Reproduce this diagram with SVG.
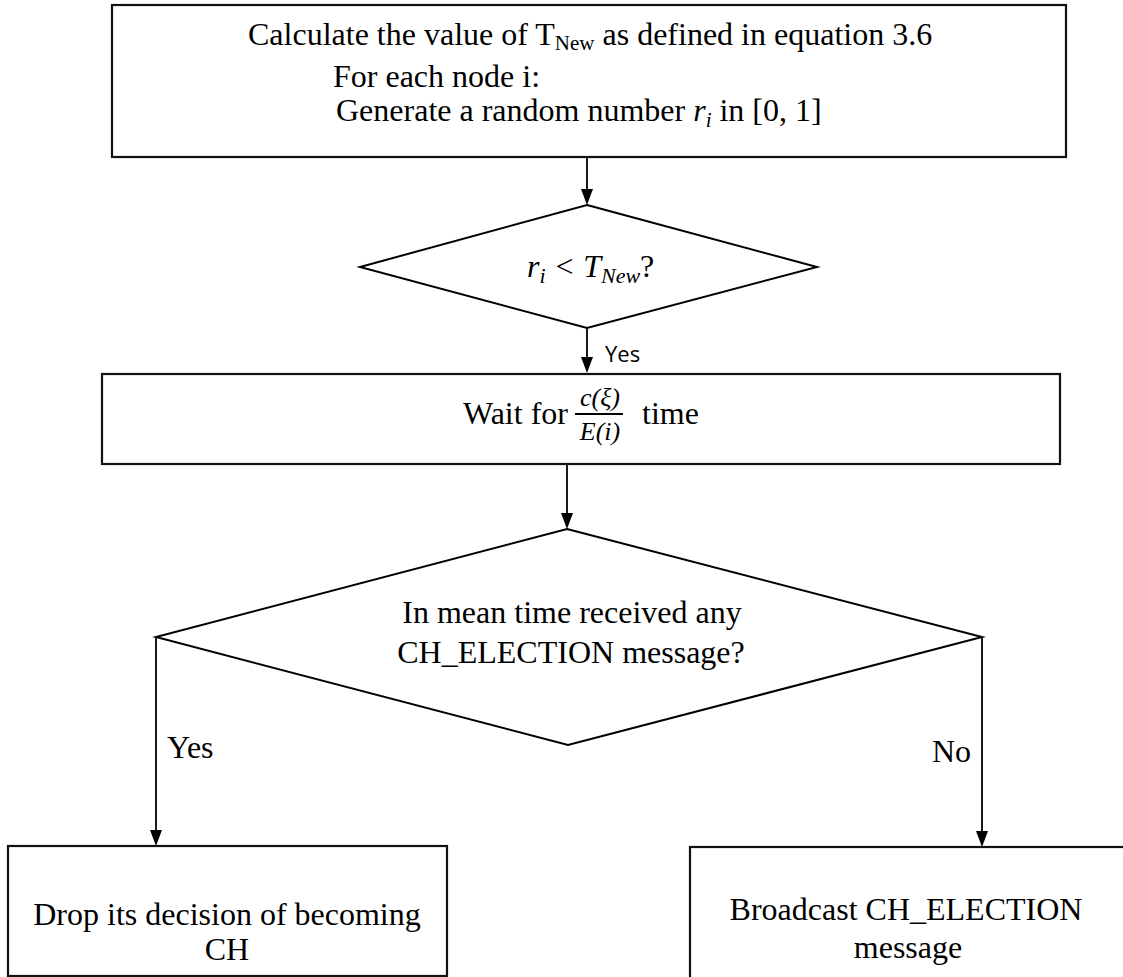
<svg xmlns="http://www.w3.org/2000/svg" width="1123" height="977" viewBox="0 0 1123 977">
<style>
.box{fill:#fff;stroke:#111;stroke-width:2.2}
.dia{fill:#fff;stroke:#000;stroke-width:2}
.ln{fill:none;stroke:#000;stroke-width:1.8}
.head{fill:#000}
.t{font-family:"Liberation Serif","Times New Roman",serif;font-size:32px;fill:#000}
.m{font-family:"Liberation Serif","Times New Roman",serif;font-style:italic;fill:#000}
.s{font-family:"Open Sans","Noto Sans",sans-serif;font-size:22px;fill:#000}
</style>
<rect width="1123" height="977" fill="#fff"/>
<g id="connectors">
<line class="ln" x1="587" y1="158" x2="587" y2="192"/>
<line class="ln" x1="587" y1="328" x2="587" y2="360"/>
<line class="ln" x1="567" y1="465" x2="567" y2="516"/>
<line class="ln" x1="156" y1="637" x2="156" y2="833"/>
<line class="ln" x1="982" y1="637" x2="982" y2="834"/>
<path class="head" d="M581,189 L593,189 L587,205 Z"/>
<path class="head" d="M581,357 L593,357 L587,373 Z"/>
<path class="head" d="M561,513 L573,513 L567,529 Z"/>
<path class="head" d="M150,830 L162,830 L156,846 Z"/>
<path class="head" d="M976,831 L988,831 L982,847 Z"/>
<text class="s" x="605" y="362">Yes</text>
<text class="t" x="167" y="758">Yes</text>
<text class="t" x="932" y="762">No</text>
</g>
<g id="node-calc">
<rect class="box" x="112" y="5" width="954" height="152"/>
<text class="t" x="248" y="45">Calculate the value of T<tspan font-size="21" dy="5">New</tspan><tspan dy="-5"> as defined in equation 3.6</tspan></text>
<text class="t" x="333" y="87">For each node i:</text>
<text class="t" x="336" y="121">Generate a random number <tspan class="m">r</tspan><tspan class="m" font-size="21" dy="6">i</tspan><tspan dy="-6"> in [0, 1]</tspan></text>
</g>
<g id="node-dec1">
<polygon class="dia" points="587,205 817,267 587,328 360,267"/>
<text class="m" font-size="32" x="527" y="277">r<tspan font-size="22" dy="6">i</tspan><tspan dy="-6"> &lt; T</tspan><tspan font-size="22" dy="6">New</tspan><tspan dy="-6" font-style="normal">?</tspan></text>
</g>
<g id="node-wait">
<rect class="box" x="102" y="374" width="958" height="90"/>
<text class="t" x="463" y="424">Wait for</text>
<text class="m" font-size="26" x="600" y="406" text-anchor="middle">c(ξ)</text>
<line x1="575" y1="414" x2="623" y2="414" stroke="#000" stroke-width="1.8"/>
<text class="m" font-size="26" x="600" y="440" text-anchor="middle">E(i)</text>
<text class="t" x="642" y="424">time</text>
</g>
<g id="node-dec2">
<polygon class="dia" points="567,529 982,637 568,745 156,637"/>
<text class="t" x="572" y="623" text-anchor="middle">In mean time received any</text>
<text class="t" x="571" y="663" text-anchor="middle">CH_ELECTION message?</text>
</g>
<g id="node-drop">
<rect class="box" x="8" y="846" width="439" height="130"/>
<text class="t" x="227" y="925" text-anchor="middle">Drop its decision of becoming</text>
<text class="t" x="227" y="960" text-anchor="middle">CH</text>
</g>
<g id="node-broadcast">
<rect class="box" x="690" y="847" width="440" height="140"/>
<text class="t" x="906" y="920" text-anchor="middle">Broadcast CH_ELECTION</text>
<text class="t" x="908" y="958" text-anchor="middle">message</text>
</g>
</svg>
